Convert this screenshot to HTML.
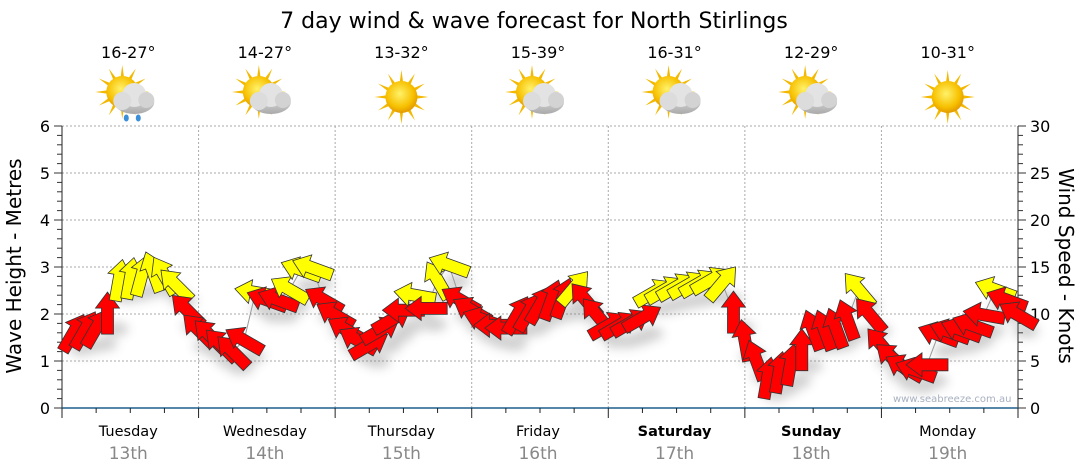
<!DOCTYPE html>
<html><head><meta charset="utf-8"><style>
body{margin:0;background:#fff;}
svg{display:block;font-family:"DejaVu Sans","Liberation Sans",sans-serif;}
</style></head><body>
<svg id="c" width="1080" height="475" viewBox="0 0 1080 475">
<defs>
<filter id="sh" x="-50%" y="-50%" width="200%" height="200%"><feGaussianBlur stdDeviation="5"/></filter>
<radialGradient id="sun" cx="45%" cy="40%" r="60%"><stop offset="0" stop-color="#fff26a"/><stop offset="0.7" stop-color="#f7c000"/><stop offset="1" stop-color="#e39a00"/></radialGradient>
<linearGradient id="cl" x1="0" y1="0" x2="0" y2="1"><stop offset="0" stop-color="#f2f2f2"/><stop offset="1" stop-color="#a9a9a9"/></linearGradient>
</defs>
<text x="534" y="28" font-size="22" text-anchor="middle" fill="#000">7 day wind &amp; wave forecast for North Stirlings</text>
<g id="grid"></g><g id="axes"></g><g id="icons"></g><g id="series"></g>
<text x="893" y="402" font-size="10" fill="#a8b0c0">www.seabreeze.com.au</text>
<text transform="translate(21,266) rotate(-90)" font-size="20" text-anchor="middle" fill="#000">Wave Height - Metres</text>
<text transform="translate(1059,266) rotate(90)" font-size="20" text-anchor="middle" fill="#000">Wind Speed - Knots</text>
</svg>
<script>
const days=["Tuesday","Wednesday","Thursday","Friday","Saturday","Sunday","Monday"];
const dates=["13th","14th","15th","16th","17th","18th","19th"];
const temps=["16-27°","14-27°","13-32°","15-39°","16-31°","12-29°","10-31°"];
const icons=["rain","cloud","sun","cloud","cloud","cloud","sun"];
const leftTicks=[0,1,2,3,4,5,6];
const rightTicks=[0,5,10,15,20,25,30];
const windKnots=[8.0,8.3,8.5,10.1,13.6,13.8,14.1,14.5,14.1,13.1,10.4,8.3,
7.7,6.7,6.0,7.2,12.3,11.5,11.5,12.6,14.7,14.9,11.5,9.9,
8.3,7.2,6.7,8.3,9.4,10.4,12.0,10.6,13.6,15.2,11.5,10.4,
9.4,8.8,8.5,9.9,10.2,11.0,11.5,11.7,12.8,11.5,9.9,8.8,
8.8,9.1,9.6,12.3,12.6,12.9,13.1,13.3,13.6,13.3,10.2,7.2,
5.1,3.2,3.8,4.6,6.2,8.3,8.3,8.5,9.4,12.6,9.9,6.7,
5.3,4.3,4.0,4.6,7.8,8.1,8.3,8.8,9.9,12.6,11.5,9.9];
const windDir=[30,30,30,0,10,10,15,-20,-30,-45,-45,-45,
-45,-45,-45,-60,-80,-70,-70,-60,-70,-70,-60,-60,
-60,-60,60,60,60,-90,-80,-90,-30,-70,-60,-60,
-70,-90,-90,30,30,30,20,20,40,-40,-40,60,
60,60,60,60,60,60,60,60,60,40,0,-10,
-20,10,10,10,0,-20,-20,-20,-20,-40,-40,-40,
-50,-60,-70,-90,-70,-70,-70,-70,-80,-70,-70,-60];
const NS="http://www.w3.org/2000/svg";
const X0=62,X1=1018,Y0=408,YT=126;
const dayW=(X1-X0)/7;
function xH(h){return X0+h*dayW/24;}
function yM(m){return Y0-m*(Y0-YT)/6;}
function yK(k){return Y0-k*(Y0-YT)/30;}
function mk(tag,attrs,parent,txt){const e=document.createElementNS(NS,tag);for(const k in attrs)e.setAttribute(k,attrs[k]);if(txt!==undefined)e.textContent=txt;parent.appendChild(e);return e;}
const grid=document.getElementById('grid'),axes=document.getElementById('axes'),icG=document.getElementById('icons'),ser=document.getElementById('series');
leftTicks.forEach(v=>{if(v>0){const l=mk('line',{x1:X0,x2:X1,y1:yM(v),y2:yM(v),stroke:'#aaa','stroke-dasharray':'2,2'},grid);

}});
for(let d=1;d<7;d++){const l=mk('line',{x1:X0+d*dayW,x2:X0+d*dayW,y1:YT,y2:Y0,stroke:'#aaa','stroke-dasharray':'2,2'},grid);

}
mk('line',{x1:X0,x2:X0,y1:YT,y2:Y0,stroke:'#222'},axes);
for(let i=0;i<=30;i++){mk('line',{x1:X0-(i%5==0?8:5),x2:X0,y1:yM(i/5),y2:yM(i/5),stroke:'#333'},axes);}
leftTicks.forEach(v=>{const t=mk('text',{x:X0-12,y:yM(v)+6,'font-size':16,'text-anchor':'end',fill:'#000'},axes,String(v));

});
mk('line',{x1:X1,x2:X1,y1:YT,y2:Y0,stroke:'#222'},axes);
for(let i=0;i<=30;i++){mk('line',{x1:X1,x2:X1+(i%5==0?8:5),y1:yK(i),y2:yK(i),stroke:'#333'},axes);}
rightTicks.forEach(v=>{const t=mk('text',{x:X1+12,y:yK(v)+6,'font-size':16,'text-anchor':'start',fill:'#000'},axes,String(v));

});
mk('line',{x1:X0,x2:X1,y1:Y0,y2:Y0,stroke:'#1f5f8b','stroke-width':1.5},axes);
for(let h=0;h<=168;h+=6){mk('line',{x1:xH(h),x2:xH(h),y1:Y0,y2:Y0+(h%24==0?10:5),stroke:'#222'},axes);}
days.forEach((d,i)=>{const cx=X0+(i+0.5)*dayW;
const t=mk('text',{x:cx-2,y:436,'font-size':14.5,'text-anchor':'middle',fill:'#000','font-weight':(d=="Saturday"||d=="Sunday")?'bold':'normal'},axes,d);


const t2=mk('text',{x:cx-2,y:459,'font-size':17,'text-anchor':'middle',fill:'#888'},axes,dates[i]);


const t3=mk('text',{x:cx-2,y:58,'font-size':16,'text-anchor':'middle',fill:'#000'},axes,temps[i]);


const g=mk('g',{transform:'translate('+(cx-2)+',97)'},icG);


const sx=icons[i]=="sun"?0:-6, sy=icons[i]=="sun"?0:-5;
for(let r=0;r<12;r++){const a=r*30*Math.PI/180;mk('polygon',{points:[sx+Math.cos(a-0.13)*14,sy+Math.sin(a-0.13)*14,sx+Math.cos(a)*27,sy+Math.sin(a)*27,sx+Math.cos(a+0.13)*14,sy+Math.sin(a+0.13)*14].join(','),fill:'#f3b800'},g);}
mk('circle',{cx:sx,cy:sy,r:16,fill:'url(#sun)'},g);
if(icons[i]!="sun"){
mk('ellipse',{cx:6,cy:5,rx:20,ry:12,fill:'url(#cl)'},g);
mk('circle',{cx:6,cy:-2,r:12,fill:'#e3e3e3'},g);
mk('circle',{cx:-6,cy:4,r:9,fill:'#dcdcdc'},g);
mk('circle',{cx:18,cy:3,r:8,fill:'#d3d3d3'},g);
if(icons[i]=="rain"){mk('ellipse',{cx:-2,cy:21,rx:2.5,ry:3.5,fill:'#3a8fd8'},g);mk('ellipse',{cx:10,cy:21,rx:2.5,ry:3.5,fill:'#3a8fd8'},g);}
}
});
const pts=windKnots.map((k,i)=>[xH(2+i*2),yK(k)]);
const sh=mk('g',{filter:'url(#sh)',opacity:0.3},ser);
pts.forEach(p=>mk('ellipse',{cx:p[0]+8,cy:p[1]+16,rx:13,ry:7,fill:'#666'},sh));
const ln=mk('polyline',{points:pts.map(p=>p.join(',')).join(' '),fill:'none',stroke:'#999','stroke-width':1},ser);


const shape="0,-21 12,-5 6,-5 6,21 -6,21 -6,-5 -12,-5";
pts.forEach((p,i)=>{
const a=mk('polygon',{points:shape,transform:'translate('+p[0].toFixed(1)+','+p[1].toFixed(1)+') rotate('+windDir[i]+')',fill:windKnots[i]>=12?'#ffff00':'#ff0000',stroke:'#333','stroke-width':0.8},ser);


});
</script>
</body></html>
